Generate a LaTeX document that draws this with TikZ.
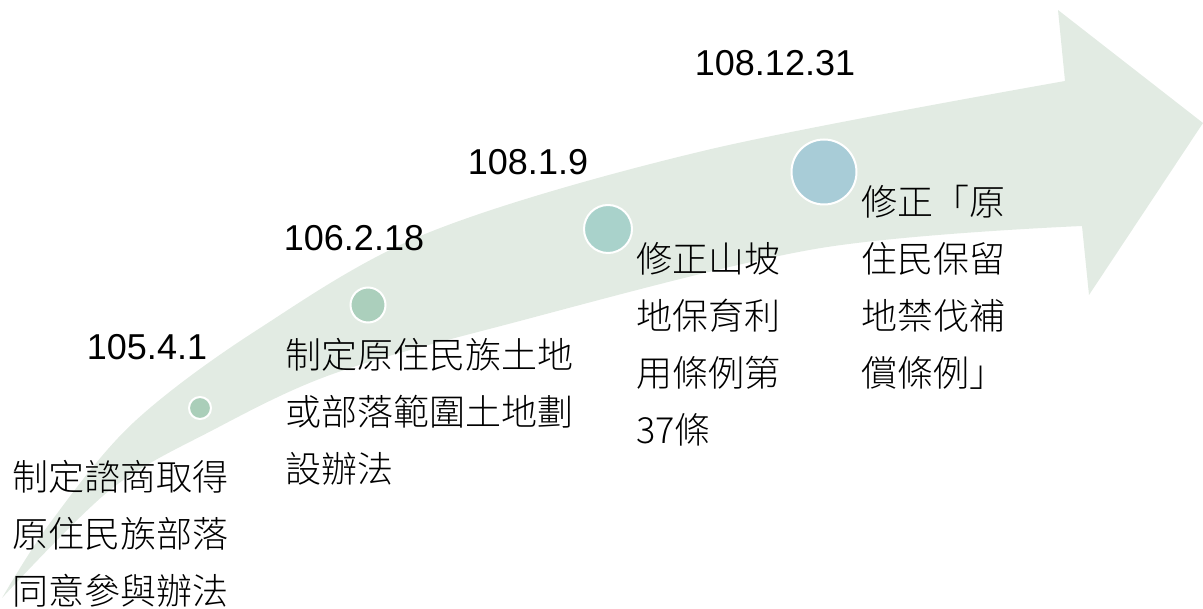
\documentclass[tikz,border=0pt]{standalone}
\usepackage{fontspec}
\setmainfont{Liberation Sans}
\newfontfamily\cjk{Noto Sans CJK TC Light}
\definecolor{arrowfill}{HTML}{E2EBE3}
\definecolor{dotA}{HTML}{AACEB9}
\definecolor{dotB}{HTML}{ABCFBC}
\definecolor{dotC}{HTML}{A9D2CB}
\definecolor{dotD}{HTML}{A8CCD7}
\begin{document}
\begin{tikzpicture}[x=1pt,y=-1pt,
  datelbl/.style={font=\fontsize{36}{43}\selectfont, inner sep=0pt},
  desc/.style={font=\cjk\fontsize{36}{57}\selectfont, align=left, anchor=west, inner sep=0pt},
  dot/.style={circle, draw=white, line width=2pt, inner sep=0pt}]
\useasboundingbox (0,0) rectangle (1203,609);
% curved arrow
\fill[arrowfill] plot[smooth, tension=0.55] coordinates {(2,598) (50,523) (133,423) (257,330) (430,232) (707,150) (1065,81)}
  -- (1058,10) -- (1203,123) -- (1089,295)
  -- plot[smooth, tension=0.55] coordinates {(1082,226) (815,249) (497,327) (330,375) (213,430) (110,490) (2,598)} -- cycle;
% circles
\node[dot, fill=dotA, minimum size=22pt] (c1) at (200,408) {};
\node[dot, fill=dotB, minimum size=35pt] (c2) at (368,305) {};
\node[dot, fill=dotC, minimum size=48pt] (c3) at (608,229) {};
\node[dot, fill=dotD, minimum size=65pt] (c4) at (824,172) {};
% dates
\node[datelbl] (d1) at (147,347) {105.4.1};
\node[datelbl] (d2) at (354,238) {106.2.18};
\node[datelbl] (d3) at (528,162) {108.1.9};
\node[datelbl] (d4) at (775,63) {108.12.31};
% descriptions
\node[desc] (t1) at (12,534) {制定諮商取得\\原住民族部落\\同意參與辦法};
\node[desc] (t2) at (285,412) {制定原住民族土地\\或部落範圍土地劃\\設辦法};
\node[desc] (t3) at (636,344) {修正山坡\\地保育利\\用條例第\\37條};
\node[desc] (t4) at (861,287) {修正「原\\住民保留\\地禁伐補\\償條例」};
\end{tikzpicture}
\end{document}
